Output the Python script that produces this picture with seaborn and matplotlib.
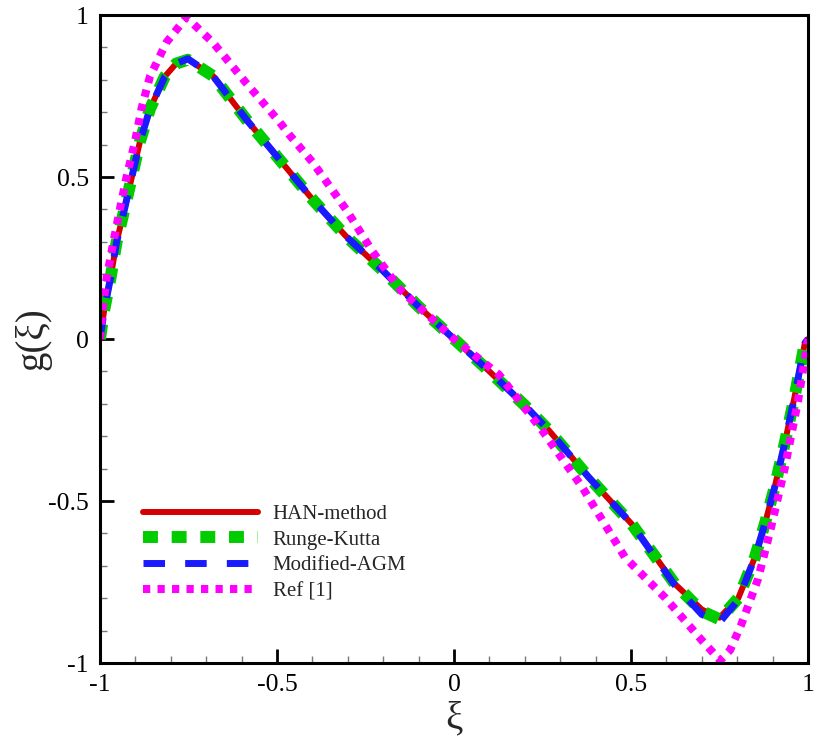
import numpy as np
import pandas as pd
import matplotlib
matplotlib.use("Agg")
import matplotlib.pyplot as plt
import seaborn as sns
from matplotlib.ticker import MultipleLocator, FuncFormatter

# ---- data ----
han_x = [-1.0, -0.988, -0.970, -0.953, -0.931, -0.910, -0.887, -0.859, -0.817, -0.785, -0.752,
         -0.681, -0.587, -0.493, -0.399, -0.305, -0.200, -0.100, 0.0, 0.100, 0.200, 0.268,
         0.380, 0.502, 0.624, 0.700, 0.750, 0.803, 0.850, 0.878, 0.906, 0.934, 0.962, 0.991, 1.0]
han_y = [0.0, 0.09, 0.19, 0.30, 0.40, 0.50, 0.61, 0.71, 0.81, 0.85, 0.864,
         0.812, 0.678, 0.554, 0.430, 0.317, 0.210, 0.100, 0.0, -0.100, -0.205, -0.282,
         -0.426, -0.571, -0.756, -0.835, -0.860, -0.800, -0.674, -0.571, -0.457, -0.323, -0.179, -0.013, 0.0]

rk_x = han_x
rk_y = [0.0, 0.09, 0.19, 0.30, 0.40, 0.50, 0.61, 0.71, 0.81, 0.85, 0.862,
        0.812, 0.678, 0.554, 0.430, 0.317, 0.210, 0.100, 0.0, -0.100, -0.205, -0.282,
        -0.426, -0.571, -0.756, -0.840, -0.865, -0.800, -0.674, -0.571, -0.457, -0.323, -0.179, -0.013, 0.0]

agm_x = han_x
agm_y = [0.0, 0.09, 0.19, 0.30, 0.40, 0.50, 0.61, 0.71, 0.81, 0.85, 0.865,
         0.812, 0.678, 0.554, 0.430, 0.317, 0.210, 0.100, 0.0, -0.100, -0.205, -0.282,
         -0.426, -0.571, -0.760, -0.850, -0.875, -0.805, -0.674, -0.571, -0.457, -0.323, -0.179, -0.013, 0.0]

ref_x = [-1.0, -0.993, -0.981, -0.962, -0.944, -0.925, -0.901, -0.883, -0.859, -0.812, -0.756,
         -0.681, -0.587, -0.493, -0.465, -0.399, -0.305, -0.230, -0.150, 0.0, 0.127, 0.249,
         0.362, 0.483, 0.596, 0.700, 0.752, 0.780, 0.812, 0.859, 0.896, 0.934, 0.972, 1.0]
ref_y = [0.0, 0.09, 0.19, 0.30, 0.40, 0.50, 0.61, 0.71, 0.81, 0.916, 0.993,
         0.915, 0.790, 0.670, 0.630, 0.545, 0.400, 0.270, 0.150, 0.0, -0.110, -0.282,
         -0.457, -0.674, -0.798, -0.930, -0.992, -0.960, -0.880, -0.740, -0.580, -0.400, -0.190, 0.0]

labels = ["HAN-method", "Runge-Kutta", "Modified-AGM", "Ref [1]"]

sns.set_theme(style="ticks")
plt.rcParams['font.family'] = ['Liberation Serif', 'DejaVu Serif']

fig = plt.figure(figsize=(8.14, 7.44), dpi=100)
ax = fig.add_axes([100 / 814, (744 - 663) / 744, 708 / 814, 648 / 744])

series = [
    (han_x, han_y, labels[0], "#d40000", 4.3, "-"),
    (rk_x, rk_y, labels[1], "#00cc00", 8.6, (0, (1.25, 1.15))),
    (agm_x, agm_y, labels[2], "#1a1aff", 5.0, (0, (3.1, 2.9))),
    (ref_x, ref_y, labels[3], "#ff00ff", 5.8, (0, (0.9, 0.9))),
]
for xs, ys, lab, col, lw, ls in series:
    df = pd.DataFrame({"xi": xs, "g": ys})
    sns.lineplot(data=df, x="xi", y="g", ax=ax, color=col, linewidth=lw,
                 linestyle=ls, label=lab, sort=False, estimator=None)

ax.set_xlim(-1, 1)
ax.set_ylim(-1, 1)
ax.xaxis.set_major_locator(MultipleLocator(0.5))
ax.yaxis.set_major_locator(MultipleLocator(0.5))
ax.xaxis.set_minor_locator(MultipleLocator(0.1))
ax.yaxis.set_minor_locator(MultipleLocator(0.1))
ax.xaxis.set_major_formatter(FuncFormatter(lambda v, p: f"{v:g}"))
ax.yaxis.set_major_formatter(FuncFormatter(lambda v, p: f"{v:g}"))

ax.tick_params(which="major", direction="in", length=10, width=2, labelsize=18.5, pad=8,
               top=False, right=False, color="black", labelcolor="black")
ax.tick_params(which="minor", direction="in", length=5, width=1, top=False, right=False,
               color="#777777")
for s in ax.spines.values():
    s.set_linewidth(2.2)
    s.set_color("black")
    s.set_visible(True)

ax.set_xlabel("ξ", fontsize=28)
ax.set_ylabel("g(ξ)", fontsize=28)
ax.xaxis.set_label_coords(0.5, -0.058)
ax.yaxis.set_label_coords(-0.068, 0.5)

leg = ax.legend(loc="upper left", bbox_to_anchor=(0.061, 0.245), frameon=False,
                fontsize=15, handlelength=5.5, handletextpad=0.72, labelspacing=0.3,
                borderpad=0, borderaxespad=0)

fig.savefig("out.png", dpi=100, facecolor="white")
